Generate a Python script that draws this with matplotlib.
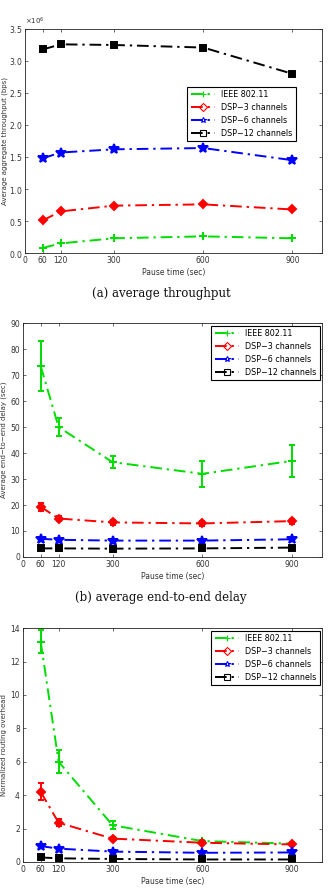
import numpy as np
import matplotlib
matplotlib.use("Agg")
import matplotlib.pyplot as plt
from matplotlib.lines import Line2D
from matplotlib.ticker import ScalarFormatter

# pause times (sec)
pause = [60, 120, 300, 600, 900]
xticks = [0, 60, 120, 300, 600, 900]

names = ["IEEE 802.11", "DSP\u22123 channels", "DSP\u22126 channels", "DSP\u221212 channels"]
colors = ["#00dd00", "#ff0000", "#0000ff", "#000000"]
markers = ["+", "D", "*", "s"]

# (a) average aggregate throughput, bps
thr_ieee = [0.08e6, 0.15e6, 0.23e6, 0.26e6, 0.23e6]
thr_dsp3 = [0.51e6, 0.65e6, 0.74e6, 0.76e6, 0.68e6]
thr_dsp6 = [1.48e6, 1.57e6, 1.62e6, 1.64e6, 1.45e6]
thr_dsp12 = [3.18e6, 3.26e6, 3.25e6, 3.21e6, 2.80e6]

# (b) average end-to-end delay, sec (mean, half error bar)
dly_ieee = [73.5, 50.0, 36.5, 32.0, 37.0]
dly_ieee_err = [9.5, 3.5, 2.2, 5.0, 6.2]
dly_dsp3 = [19.3, 14.8, 13.3, 12.9, 13.8]
dly_dsp3_err = [1.5, 1.0, 1.0, 1.0, 1.0]
dly_dsp6 = [7.0, 6.6, 6.3, 6.3, 6.8]
dly_dsp6_err = [0.4, 0.3, 0.3, 0.3, 0.4]
dly_dsp12 = [3.3, 3.3, 3.2, 3.3, 3.6]
dly_dsp12_err = [0.2, 0.2, 0.2, 0.2, 0.2]

# (c) normalized routing overhead
ovh_ieee = [13.2, 6.0, 2.2, 1.25, 1.1]
ovh_ieee_err = [0.7, 0.7, 0.25, 0.08, 0.08]
ovh_dsp3 = [4.2, 2.35, 1.4, 1.15, 1.05]
ovh_dsp3_err = [0.5, 0.2, 0.1, 0.1, 0.1]
ovh_dsp6 = [0.95, 0.8, 0.62, 0.55, 0.57]
ovh_dsp6_err = [0.05, 0.05, 0.04, 0.04, 0.04]
ovh_dsp12 = [0.27, 0.22, 0.18, 0.15, 0.15]
ovh_dsp12_err = [0.03, 0.03, 0.02, 0.02, 0.02]

tick_fs = 5.5
txt_col = "#333333"
dash = (0, (6, 2.5, 1.2, 2.5))

fig = plt.figure(figsize=(3.29, 8.89), dpi=100)
ax1 = fig.add_axes([0.076, 0.7154, 0.903, 0.252])
ax2 = fig.add_axes([0.069, 0.3735, 0.910, 0.263])
ax3 = fig.add_axes([0.069, 0.0304, 0.910, 0.263])


def msize(m):
    return 7 if m == "*" else (4.5 if m in ("D", "s") else 6)


def style(ax, ylabel, ylim, yticks, lab_x):
    ax.set_xlim(0, 1000)
    ax.set_ylim(*ylim)
    ax.set_xticks(xticks)
    ax.set_yticks(yticks)
    ax.tick_params(direction="in", top=True, right=True, labelsize=tick_fs,
                   colors=txt_col, length=2.5, width=0.5, pad=2)
    for s in ax.spines.values():
        s.set_linewidth(0.6)
        s.set_color("#222222")
    ax.set_xlabel("Pause time (sec)", fontsize=tick_fs, color=txt_col, labelpad=2)
    ax.set_ylabel(ylabel, fontsize=5.0, color=txt_col)
    ax.yaxis.set_label_coords(lab_x, 0.5)


def add_legend(ax, **kw):
    handles = [Line2D([], [], color=c, marker=m, linestyle=dash, linewidth=1.4,
                      markersize=4, markerfacecolor="none", markeredgewidth=0.8)
               for c, m in zip(colors, markers)]
    leg = ax.legend(handles, names, fontsize=5.8, frameon=True, fancybox=False,
                    edgecolor="black", handlelength=3, borderpad=0.4,
                    labelspacing=0.5, framealpha=1, **kw)
    leg.get_frame().set_linewidth(0.8)


def draw(ax, series):
    for (y, e), c, m in zip(series, colors, markers):
        if e is not None:
            ax.errorbar(pause, y, yerr=e, fmt="none", ecolor=c, elinewidth=1.4,
                        capsize=2.5, capthick=1.4)
        ax.plot(pause, y, color=c, marker=m, linestyle=dash, linewidth=1.4,
                markersize=msize(m), markeredgewidth=1.4)


# (a) throughput
draw(ax1, [(thr_ieee, None), (thr_dsp3, None), (thr_dsp6, None), (thr_dsp12, None)])
style(ax1, "Average aggregate throughput (bps)", (0, 3.5e6),
      np.arange(0, 3.51e6, 0.5e6), -0.058)
fmt = ScalarFormatter(useMathText=True)
fmt.set_powerlimits((0, 0))
ax1.yaxis.set_major_formatter(fmt)
ax1.yaxis.get_offset_text().set_fontsize(5)
ax1.yaxis.get_offset_text().set_color(txt_col)
add_legend(ax1, loc="upper right", bbox_to_anchor=(0.925, 0.76))

# (b) delay
draw(ax2, [(dly_ieee, dly_ieee_err), (dly_dsp3, dly_dsp3_err),
           (dly_dsp6, dly_dsp6_err), (dly_dsp12, dly_dsp12_err)])
style(ax2, "Average end\u2212to\u2212end delay (sec)", (0, 90), range(0, 91, 10), -0.052)
add_legend(ax2, loc="upper right", borderaxespad=0.3)

# (c) overhead
draw(ax3, [(ovh_ieee, ovh_ieee_err), (ovh_dsp3, ovh_dsp3_err),
           (ovh_dsp6, ovh_dsp6_err), (ovh_dsp12, ovh_dsp12_err)])
style(ax3, "Normalized routing overhead", (0, 14), range(0, 15, 2), -0.052)
add_legend(ax3, loc="upper right", borderaxespad=0.3)

# captions
cap_font = dict(fontsize=8.5, family="DejaVu Serif", color="#111111",
                ha="center", va="center")
fig.text(0.49, 1 - 293 / 889, "(a) average throughput", **cap_font)
fig.text(0.49, 1 - 598 / 889, "(b) average end-to-end delay", **cap_font)

fig.savefig("out.png", dpi=100)
